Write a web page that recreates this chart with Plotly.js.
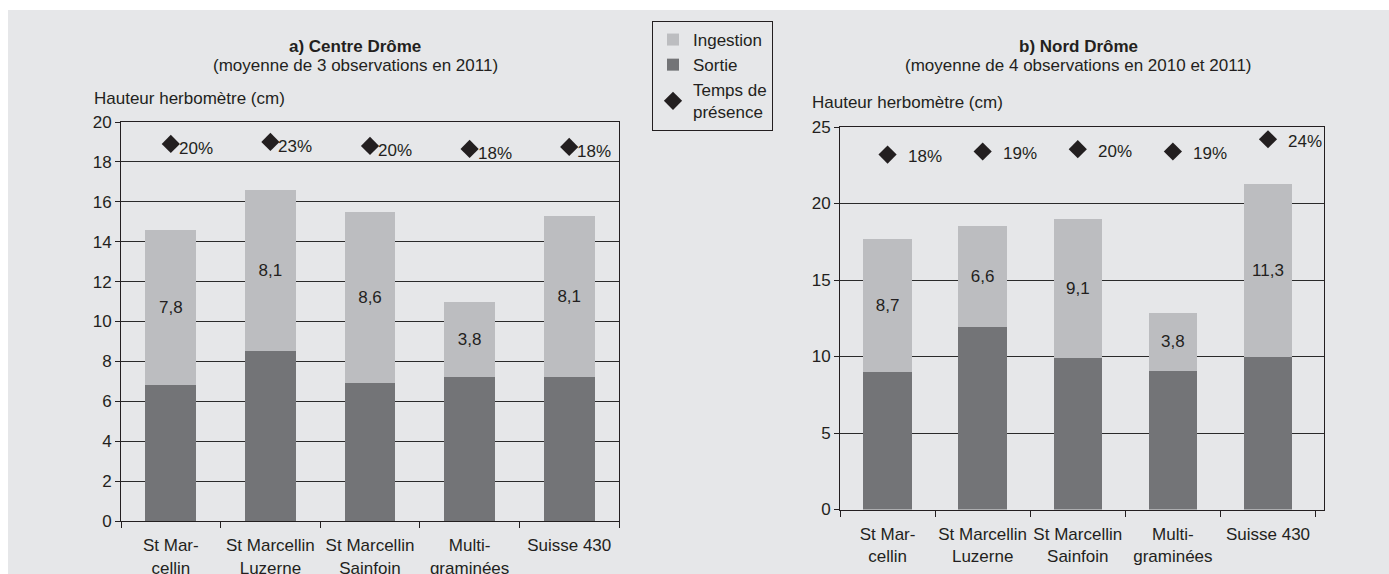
<!DOCTYPE html>
<html><head><meta charset="utf-8">
<script src="https://cdn.plot.ly/plotly-3.0.1.min.js"></script>
<style>html,body{margin:0;padding:0;background:#fff}#chart{width:1389px;height:574px}</style>
</head><body><div id="chart"></div>
<script>
const categories = ["St Mar-<br>cellin", "St Marcellin<br>Luzerne", "St Marcellin<br>Sainfoin", "Multi-<br>graminées", "Suisse 430"];
const centreSortie = [6.8, 8.5, 6.9, 7.2, 7.2];
const centreIngestion = [7.8, 8.1, 8.6, 3.8, 8.1];
const centrePresencePct = [20, 23, 20, 18, 18];
const centrePresenceHeight = [18.9, 19.0, 18.8, 18.65, 18.75];
const nordSortie = [9.0, 11.9, 9.9, 9.05, 10.0];
const nordIngestion = [8.7, 6.6, 9.1, 3.8, 11.3];
const nordPresencePct = [18, 19, 20, 19, 24];
const nordPresenceHeight = [23.2, 23.4, 23.55, 23.4, 24.2];
const centreTicks = [0, 2, 4, 6, 8, 10, 12, 14, 16, 18, 20];
const nordTicks = [0, 5, 10, 15, 20, 25];

const W = 1389, H = 574;
const FONT = "'Liberation Sans', Arial, sans-serif";
const TXT = '#231f20';
const C_ING = '#bcbdc0', C_SOR = '#737477';
const fmt = v => v.toFixed(1).replace('.', ',');
const px = x => x / W, py = y => 1 - y / H;

function barsFor(sortie, ingestion, pres, xa, ya, legend) {
  return [
    {type: 'bar', x: categories, y: sortie, xaxis: xa, yaxis: ya, name: 'Sortie',
     marker: {color: C_SOR}, width: 0.51, showlegend: legend, legendrank: 2, hoverinfo: 'skip'},
    {type: 'bar', x: categories, y: ingestion, xaxis: xa, yaxis: ya, name: 'Ingestion',
     marker: {color: C_ING}, width: 0.51, showlegend: legend, legendrank: 1,
     text: ingestion.map(fmt), textposition: 'inside', insidetextanchor: 'middle',
     textangle: 0, textfont: {family: FONT, size: 17, color: TXT}, hoverinfo: 'skip'},
    {type: 'scatter', mode: 'markers', x: categories, y: pres, xaxis: xa, yaxis: ya,
     name: 'Temps de<br>présence', marker: {symbol: 'diamond', size: 14, color: TXT},
     showlegend: legend, legendrank: 3, hoverinfo: 'skip', cliponaxis: false}
  ];
}

const data = [
  ...barsFor(centreSortie, centreIngestion, centrePresenceHeight, 'x', 'y', true),
  ...barsFor(nordSortie, nordIngestion, nordPresenceHeight, 'x2', 'y2', false)
];

const annotations = [];
centrePresencePct.forEach((p, i) => annotations.push({
  x: i, y: centrePresenceHeight[i], xref: 'x', yref: 'y', text: p + '%', showarrow: false,
  xshift: 25, yshift: -5, font: {family: FONT, size: 17, color: TXT}}));
nordPresencePct.forEach((p, i) => annotations.push({
  x: i, y: nordPresenceHeight[i], xref: 'x2', yref: 'y2', text: p + '%', showarrow: false,
  xshift: 37, yshift: -2, font: {family: FONT, size: 17, color: TXT}}));

function txt(text, x, y, size, bold, anchor) {
  return {text: bold ? '<b>' + text + '</b>' : text, x: px(x), y: py(y), xref: 'paper', yref: 'paper',
    showarrow: false, xanchor: anchor || 'center', yanchor: 'middle',
    font: {family: FONT, size: size, color: TXT}};
}
annotations.push(txt('a) Centre Drôme', 355, 47, 17, true));
annotations.push(txt('(moyenne de 3 observations en 2011)', 355, 66, 17));
annotations.push(txt('Hauteur herbomètre (cm)', 92, 98, 17, false, 'left'));
annotations.push(txt('b) Nord Drôme', 1078, 47, 17, true));
annotations.push(txt('(moyenne de 4 observations en 2010 et 2011)', 1078, 66, 17));
annotations.push(txt('Hauteur herbomètre (cm)', 810, 103, 17, false, 'left'));

const xBase = {type: 'category', showline: true, linecolor: TXT, linewidth: 1, mirror: true,
  ticks: 'outside', tickson: 'boundaries', ticklen: 6, tickcolor: TXT, showgrid: false,
  tickangle: 0, automargin: false,
  tickfont: {family: FONT, size: 17, color: TXT}, ticklabelstandoff: 9, fixedrange: true};
const yBase = {showline: true, linecolor: TXT, linewidth: 1, mirror: true, ticks: 'outside',
  ticklen: 5, tickcolor: TXT, showgrid: true, gridcolor: '#2a2a2a', gridwidth: 1, zeroline: false,
  tickfont: {family: FONT, size: 17, color: TXT}, fixedrange: true};

const layout = {
  width: W, height: H, margin: {l: 0, r: 0, t: 0, b: 0},
  paper_bgcolor: '#ffffff', plot_bgcolor: 'rgba(0,0,0,0)',
  barmode: 'stack', showlegend: true,
  font: {family: FONT, size: 17, color: TXT},
  xaxis: Object.assign({}, xBase, {domain: [px(121), px(619)], anchor: 'y'}),
  yaxis: Object.assign({}, yBase, {domain: [py(521), py(122)], anchor: 'x', range: [0, 20], tickvals: centreTicks}),
  xaxis2: Object.assign({}, xBase, {domain: [px(840), px(1324)], anchor: 'y2'}),
  yaxis2: Object.assign({}, yBase, {domain: [py(509.5), py(127)], anchor: 'x2', range: [0, 25], tickvals: nordTicks}),
  legend: {x: px(652), y: py(21), xanchor: 'left', yanchor: 'top', bgcolor: 'rgba(0,0,0,0)',
    bordercolor: TXT, borderwidth: 1, traceorder: 'normal', itemwidth: 30,
    font: {family: FONT, size: 17, color: TXT}},
  shapes: [{type: 'rect', xref: 'paper', yref: 'paper', x0: px(8), x1: 1, y0: 0, y1: py(10),
    fillcolor: '#e6e7e9', line: {width: 0}, layer: 'below'}],
  annotations: annotations
};

Plotly.newPlot('chart', data, layout, {staticPlot: true, displayModeBar: false});
</script></body></html>
